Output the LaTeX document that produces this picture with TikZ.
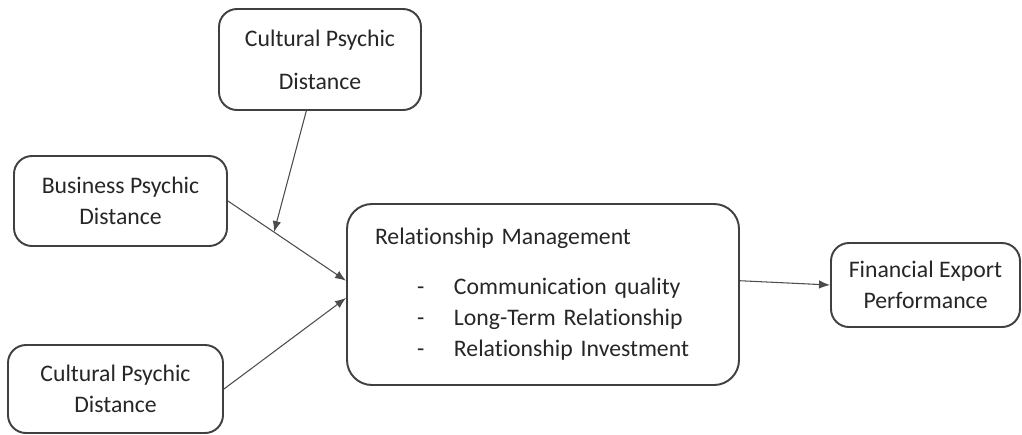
\documentclass[tikz,border=0pt]{standalone}
\usepackage{fontspec}
\setmainfont[Ligatures=NoCommon]{Carlito}
\usetikzlibrary{positioning}
\usetikzlibrary{arrows.meta}

\begin{document}
\begin{tikzpicture} [
            box/.style={draw=black!75,line width=1.1pt,rectangle,rounded corners=0.36cm,inner sep=0pt},
            link/.style={-{Latex[length=2.2mm,width=1.7mm]},black!70,line width=0.6pt},
         every node/.append style={align=center,text=black!85,font=\fontsize{13.5}{17.6}\selectfont}]
\useasboundingbox (0,0) rectangle (20.44,-8.68);
\node (cultTop) at (6.4,-1.19) [box,minimum width=4.04cm,minimum height=2.02cm,font=\fontsize{13.5}{24.5}\selectfont] {Cultural Psychic \\ Distance}
node (biz) at (2.41,-4.02) [box,minimum width=4.26cm,minimum height=1.8cm] {Business Psychic \\ Distance}
node (cultBot) at (2.31,-7.78) [box,minimum width=4.3cm,minimum height=1.76cm] {Cultural Psychic \\ Distance}
node (rm) at (10.86,-5.89) [box,rounded corners=0.5cm,align=left,text width=6.72cm,inner xsep=0.56cm,minimum height=3.62cm] {\mbox{Relationship Management} \\[0.38cm]
  \hspace*{0.84cm}\makebox[0.74cm][l]{-}\mbox{Communication quality} \\
  \hspace*{0.84cm}\makebox[0.74cm][l]{-}\mbox{Long-Term Relationship} \\
  \hspace*{0.84cm}\makebox[0.74cm][l]{-}\mbox{Relationship Investment}}
node (fin) at (18.51,-5.7) [box,minimum width=3.78cm,minimum height=1.68cm] {Financial Export \\ Performance}
 ;
%\draw[help lines] (0,0) grid (20,-8);

\draw [link] (biz.east) -- coordinate[pos=0.39] (mod) (rm.176);
\draw [link] (cultTop) -- (mod);
\draw [link] (cultBot.east) -- (rm.181);
\draw [link] (rm.4) -- (fin.west);
\end{tikzpicture}
\end{document}
